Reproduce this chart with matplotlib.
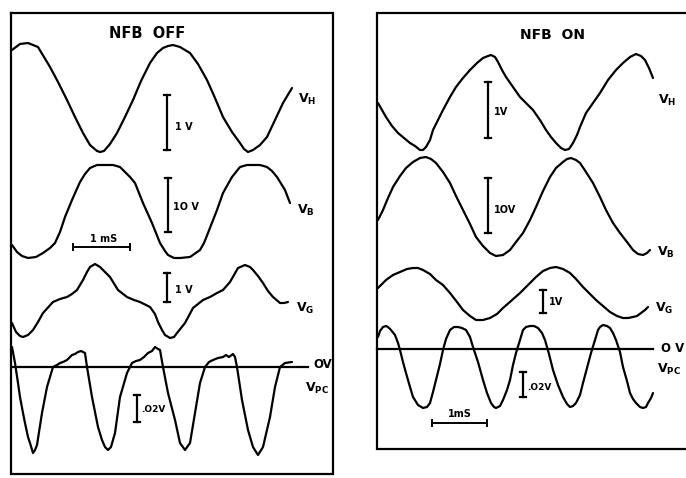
import matplotlib
matplotlib.use("Agg")
import matplotlib.pyplot as plt

plt.rcParams['mathtext.fontset'] = 'dejavusans'

# ---------------- data (trace samples, image pixel units) -------------
# Left panel: NFB OFF
off_vh_x = [12, 20, 28, 38, 50, 58, 67, 75, 83, 90, 97, 100, 104, 110, 117, 125, 133, 141, 150, 157, 163, 168, 173, 180, 190, 198, 207, 215, 223, 232, 240, 244, 248, 253, 260, 267, 275, 283, 292]
off_vh_y = [50, 44, 43, 47, 67, 82, 100, 117, 133, 145, 151, 152, 151, 144, 133, 117, 100, 81, 63, 53, 48, 46, 45, 47, 53, 64, 80, 98, 117, 132, 143, 149, 152, 150, 145, 137, 120, 103, 88]

off_vb_x = [12, 17, 22, 28, 36, 43, 50, 55, 60, 65, 72, 80, 85, 90, 97, 105, 113, 120, 125, 130, 135, 143, 152, 160, 165, 168, 174, 180, 190, 200, 204, 208, 217, 223, 232, 240, 247, 253, 260, 267, 272, 277, 285, 290]
off_vb_y = [245, 252, 256, 258, 257, 253, 248, 243, 232, 217, 200, 182, 174, 168, 165, 165, 165, 167, 172, 177, 183, 203, 223, 243, 251, 255, 258, 258, 257, 250, 243, 233, 210, 193, 177, 167, 165, 165, 165, 167, 171, 177, 190, 203]

off_vg_x = [12, 16, 20, 23, 28, 33, 38, 43, 53, 60, 67, 72, 77, 83, 87, 90, 95, 100, 105, 110, 118, 127, 134, 140, 150, 155, 158, 162, 165, 170, 174, 177, 185, 193, 203, 210, 217, 223, 230, 234, 238, 245, 250, 253, 258, 263, 268, 273, 280, 284, 288]
off_vg_y = [323, 332, 336, 337, 335, 330, 322, 313, 302, 299, 297, 294, 290, 280, 272, 267, 264, 267, 272, 277, 290, 297, 300, 302, 307, 314, 322, 330, 335, 338, 337, 333, 323, 308, 300, 297, 293, 290, 282, 275, 268, 265, 267, 270, 276, 283, 291, 297, 303, 303, 302]

off_vpc_x = [12, 15, 18, 20, 23, 25, 28, 30, 33, 35, 37, 42, 47, 53, 57, 60, 63, 67, 72, 75, 78, 81, 83, 85, 87, 92, 98, 102, 105, 108, 111, 115, 120, 127, 132, 136, 140, 144, 148, 152, 155, 158, 160, 163, 168, 175, 180, 185, 190, 195, 200, 205, 209, 213, 218, 223, 226, 229, 233, 235, 237, 242, 248, 253, 258, 263, 270, 275, 280, 285, 292]
off_vpc_y = [347, 363, 383, 397, 413, 423, 437, 443, 453, 450, 445, 413, 387, 367, 365, 363, 362, 360, 355, 354, 352, 351, 352, 353, 367, 397, 427, 440, 447, 450, 447, 433, 397, 373, 363, 361, 360, 357, 353, 351, 347, 349, 350, 367, 393, 420, 443, 450, 443, 413, 383, 367, 362, 360, 358, 357, 355, 357, 354, 357, 367, 400, 430, 447, 455, 447, 417, 387, 367, 363, 362]

# Right panel: NFB ON
on_vh_x = [378, 386, 392, 398, 404, 410, 415, 420, 423, 426, 430, 433, 438, 443, 450, 456, 463, 470, 477, 483, 488, 491, 495, 498, 502, 506, 513, 520, 527, 533, 540, 546, 551, 556, 561, 565, 569, 573, 577, 580, 583, 586, 593, 600, 608, 616, 623, 630, 636, 641, 645, 649, 653]
on_vh_y = [103, 117, 126, 133, 138, 143, 146, 150, 150, 147, 140, 130, 120, 110, 97, 87, 78, 70, 63, 58, 56, 55, 57, 62, 70, 77, 87, 97, 104, 110, 120, 130, 137, 143, 148, 150, 149, 143, 135, 127, 120, 113, 103, 93, 80, 70, 63, 57, 54, 56, 60, 68, 78]

on_vb_x = [378, 383, 388, 393, 400, 406, 413, 420, 426, 431, 436, 443, 450, 456, 463, 470, 476, 483, 490, 496, 503, 510, 516, 523, 530, 536, 543, 550, 556, 563, 567, 571, 576, 580, 586, 593, 600, 606, 613, 620, 627, 633, 638, 643, 647, 650]
on_vb_y = [220, 210, 198, 187, 176, 168, 162, 158, 157, 159, 163, 172, 183, 196, 210, 224, 237, 246, 253, 256, 255, 250, 242, 233, 220, 207, 191, 177, 168, 162, 159, 158, 160, 163, 172, 183, 197, 210, 223, 233, 242, 250, 254, 255, 253, 250]

on_vg_x = [378, 386, 393, 400, 407, 413, 418, 423, 430, 436, 443, 450, 457, 463, 470, 476, 483, 490, 497, 503, 511, 520, 528, 536, 543, 550, 556, 563, 570, 576, 583, 590, 596, 603, 610, 617, 623, 628, 633, 637, 641, 645, 648]
on_vg_y = [288, 280, 275, 272, 269, 268, 268, 270, 274, 280, 285, 293, 302, 310, 316, 320, 320, 318, 314, 308, 301, 293, 285, 277, 271, 268, 267, 269, 273, 279, 287, 294, 300, 306, 312, 316, 318, 318, 317, 316, 313, 310, 307]

on_vpc_x = [378, 380, 383, 386, 388, 391, 395, 398, 400, 403, 406, 410, 413, 418, 423, 427, 430, 433, 436, 440, 443, 446, 450, 454, 458, 462, 466, 470, 473, 478, 483, 487, 491, 494, 496, 500, 503, 507, 510, 513, 516, 520, 523, 526, 530, 534, 538, 542, 545, 549, 553, 558, 563, 567, 570, 573, 576, 580, 583, 587, 591, 595, 598, 600, 603, 607, 610, 613, 616, 620, 623, 627, 630, 633, 636, 640, 643, 646, 648, 651, 653]
on_vpc_y = [337, 331, 327, 326, 327, 330, 335, 343, 350, 362, 373, 387, 397, 405, 408, 407, 403, 392, 380, 364, 350, 339, 330, 327, 327, 328, 330, 337, 347, 362, 380, 393, 403, 407, 408, 406, 400, 390, 380, 365, 353, 340, 330, 327, 326, 326, 328, 333, 340, 354, 370, 385, 397, 404, 407, 406, 403, 395, 383, 368, 353, 340, 330, 327, 325, 326, 328, 333, 340, 352, 367, 381, 393, 399, 403, 407, 408, 407, 403, 398, 393]

# ---------------- figure -------------
fig = plt.figure(figsize=(6.86, 4.78), dpi=100)
ax = fig.add_axes([0, 0, 1, 1])
ax.set_xlim(0, 686)
ax.set_ylim(478, 0)
ax.axis('off')

K = 'black'
LW = 1.6

# panel frames
ax.plot([11, 333, 333, 11, 11], [13, 13, 474, 474, 13], color=K, lw=1.6, solid_joinstyle='miter')
ax.plot([686, 377, 377, 686], [13, 13, 449, 449], color=K, lw=1.6, solid_joinstyle='miter')

# traces
for xs, ys in [(off_vh_x, off_vh_y), (off_vb_x, off_vb_y), (off_vg_x, off_vg_y), (off_vpc_x, off_vpc_y),
               (on_vh_x, on_vh_y), (on_vb_x, on_vb_y), (on_vg_x, on_vg_y), (on_vpc_x, on_vpc_y)]:
    ax.plot(xs, ys, color=K, lw=LW, solid_joinstyle='round', solid_capstyle='round')

# zero-volt lines
ax.plot([12, 308], [367, 367], color=K, lw=1.6)
ax.plot([377, 653], [349, 349], color=K, lw=1.6)

def vbar(x, y0, y1, w=3):
    ax.plot([x, x], [y0, y1], color=K, lw=1.6)
    ax.plot([x - w, x + w], [y0, y0], color=K, lw=1.6)
    ax.plot([x - w, x + w], [y1, y1], color=K, lw=1.6)

def hbar(x0, x1, y, h=3):
    ax.plot([x0, x1], [y, y], color=K, lw=1.4)
    ax.plot([x0, x0], [y - h, y + h], color=K, lw=1.4)
    ax.plot([x1, x1], [y - h, y + h], color=K, lw=1.4)

# scale bars left
vbar(167, 95, 150)
vbar(168, 178, 232)
vbar(167, 273, 302)
vbar(137, 395, 422)
hbar(73, 130, 247)
# scale bars right
vbar(488, 82, 138)
vbar(488, 178, 233)
vbar(543, 290, 313)
vbar(523, 372, 397)
hbar(432, 487, 423)

fw = 'bold'
def t(x, y, s, size=7, ha='left'):
    ax.text(x, y, s, fontsize=size, fontweight=fw, ha=ha, va='center', color=K, family='DejaVu Sans')

# titles
t(147, 33, 'NFB  OFF', size=10.5, ha='center')
t(553, 35, 'NFB  ON', size=10, ha='center')

# scale labels left
t(175, 127, '1 V')
t(173, 207, '1O V')
t(175, 290, '1 V')
t(141, 410, '.O2V', size=6.5)
t(104, 239, '1 mS', size=7, ha='center')
# scale labels right
t(494, 112, '1V')
t(494, 210, '1OV')
t(549, 302, '1V')
t(527, 387, '.O2V', size=6.5)
t(460, 414, '1mS', size=7, ha='center')

# trace labels
def lab(x, y, sub, size=9):
    ax.text(x, y, r'$\mathbf{V_{%s}}$' % sub, fontsize=size, ha='left', va='center', color=K)

lab(298, 99, 'H')
lab(297, 210, 'B')
lab(296, 308, 'G')
t(313, 365, 'OV', size=8.5)
lab(305, 388, 'PC')

lab(658, 100, 'H')
lab(657, 252, 'B')
lab(655, 308, 'G')
t(661, 348, 'O V', size=8.5)
lab(657, 369, 'PC')

fig.savefig('out.png', dpi=100)
